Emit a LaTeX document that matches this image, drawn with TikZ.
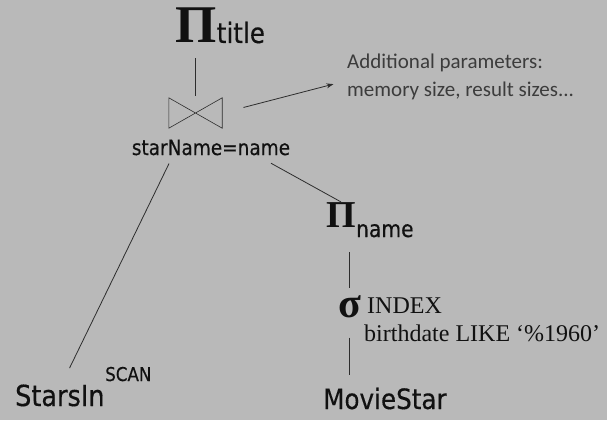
\documentclass[tikz,border=0pt]{standalone}
\usepackage{fontspec}
\setmainfont{Liberation Serif}
\newfontfamily\labelfont[FakeStretch=0.88, FakeBold=0.4]{DejaVu Sans}
\newfontfamily\notefont{Carlito}
\usetikzlibrary{arrows.meta, positioning, calc}
\definecolor{slidebg}{RGB}{185,185,185}
\definecolor{ink}{RGB}{17,17,17}
\definecolor{wire}{RGB}{45,45,45}
\definecolor{notegray}{RGB}{60,60,60}
\newcommand{\fs}[1]{\fontsize{#1}{#1}\selectfont}
\tikzset{
  opsym/.style={inner sep=0pt, text=ink},
  lbl/.style={inner sep=0pt, text=ink, font=\labelfont},
  note/.style={inner sep=0pt, text=notegray, font=\notefont\fs{21}},
  edge/.style={draw=wire, line width=0.8pt},
  arrow/.style={-{Stealth[length=7pt, width=5pt]}, line width=0.8pt, color=wire},
}

\begin{document}
\begin{tikzpicture}[x=1pt, y=-1pt]
        \fill[slidebg] (0,0) rectangle (607,420);

        % operators
        \node[opsym, font=\bfseries\fs{53}, anchor=base west] (projT) at (175,43) {Π};
        \node[lbl, font=\labelfont\fs{28}, anchor=base west] (projTlbl) at (projT.base east) {title};
        \node[minimum width=53pt, minimum height=30pt, inner sep=0pt] (join) at (195.5,113) {};
        \draw[edge, line width=0.6pt] (join.north west) -- (join.south west)
          -- (join.north east) -- (join.south east) -- cycle;
        \node[lbl, font=\labelfont\fs{21}, anchor=base] (cond) at (211,155) {starName=name};
        \node[opsym, font=\bfseries\fs{38}, anchor=base west] (projN) at (326,227) {Π};
        \node[lbl, font=\labelfont\fs{23}, anchor=base west] (projNlbl)
          at ([yshift=-10pt]projN.base east) {name};
        \node[opsym, font=\bfseries\fs{42}, anchor=base west] (sel) at (338,317) {σ};
        \node[opsym, font=\fs{24}, anchor=base west] (selIdx) at (367,313) {INDEX};
        \node[opsym, font=\fs{24}, anchor=base west] (selPred) at (364,341) {birthdate LIKE ‘\%1960’};

        % relations
        \node[lbl, font=\labelfont\fs{29}, anchor=base west] (stars) at (15,406) {StarsIn};
        \node[lbl, font=\labelfont\fs{19}, anchor=base west] (scan) at (105,381) {SCAN};
        \node[lbl, font=\labelfont\fs{28}, anchor=base west] (movie) at (323,409) {MovieStar};

        % note
        \node[note, anchor=base west] (noteA) at (347,68) {Additional parameters:};
        \node[note, anchor=base west] (noteB) at (347,96) {memory size, result sizes...};

        % tree edges
        \draw[edge, shorten <=15pt, shorten >=2pt] (join.north |- projT.south) -- (join.north);
        \draw[edge, shorten <=9pt, shorten >=18pt]
          ($(cond.south west)!0.26!(cond.south east)$) -- ($(stars.north west)!0.52!(stars.north east)$);
        \draw[edge, shorten <=16pt] ($(cond.south west)!0.79!(cond.south east)$) -- (projN.north);
        \draw[edge, shorten <=25pt, shorten >=7pt] (sel.north |- projN.south) -- (sel.north);
        \draw[edge, shorten <=20pt, shorten >=13pt] (sel.south) -- (sel.south |- movie.north);
        \draw[arrow, shorten <=22pt, shorten >=14pt]
          (join.east) -- ($(noteA.base west)!0.45!(noteB.base west)$);
      \end{tikzpicture}
\end{document}
